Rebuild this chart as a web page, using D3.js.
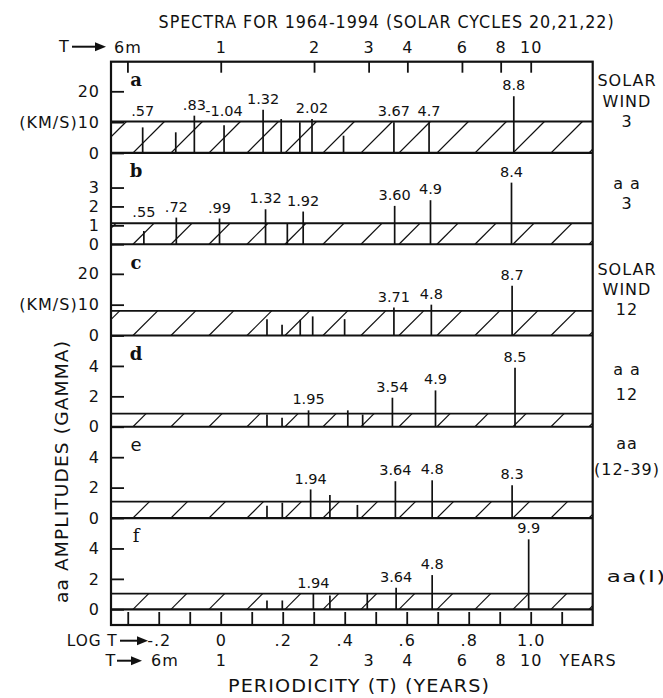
<!DOCTYPE html>
<html>
<head>
<meta charset="utf-8">
<script src="https://cdn.jsdelivr.net/npm/d3@7"></script>
<style>
  body { margin: 0; background: #fff; }
  text { font-family: "DejaVu Sans", sans-serif; fill: #111; letter-spacing: 1px; }
</style>
</head>
<body>
<div id="chart"></div>
<script>
// ---- data (T in years, amplitude in panel units) ----
var peaksA = [
  {T: 0.56, amp: 8.3, label: ".57"},
  {T: 0.716, amp: 6.7},
  {T: 0.822, amp: 12.1, label: ".83"},
  {T: 1.025, amp: 9.0, label: "-1.04"},
  {T: 1.37, amp: 14.0, label: "1.32"},
  {T: 1.567, amp: 11.0},
  {T: 1.80, amp: 10.0},
  {T: 1.97, amp: 11.0, label: "2.02"},
  {T: 2.49, amp: 5.6},
  {T: 3.62, amp: 10.0, label: "3.67"},
  {T: 4.70, amp: 10.0, label: "4.7"},
  {T: 8.82, amp: 18.4, label: "8.8"}
];
var peaksB = [
  {T: 0.565, amp: 0.70, label: ".55"},
  {T: 0.719, amp: 1.41, label: ".72"},
  {T: 0.991, amp: 1.36, label: ".99"},
  {T: 1.395, amp: 1.85, label: "1.32"},
  {T: 1.64, amp: 1.1},
  {T: 1.845, amp: 1.73, label: "1.92"},
  {T: 3.64, amp: 2.03, label: "3.60"},
  {T: 4.75, amp: 2.33, label: "4.9"},
  {T: 8.67, amp: 3.26, label: "8.4"}
];
var peaksC = [
  {T: 1.41, amp: 5.3},
  {T: 1.577, amp: 3.5},
  {T: 1.805, amp: 5.1},
  {T: 1.98, amp: 6.2},
  {T: 2.51, amp: 5.3},
  {T: 3.62, amp: 9.1, label: "3.71"},
  {T: 4.78, amp: 10.0, label: "4.8"},
  {T: 8.71, amp: 16.1, label: "8.7"}
];
var peaksD = [
  {T: 1.41, amp: 0.81},
  {T: 1.577, amp: 0.6},
  {T: 1.92, amp: 1.08, label: "1.95"},
  {T: 2.57, amp: 1.08},
  {T: 2.87, amp: 0.8},
  {T: 3.58, amp: 1.91, label: "3.54"},
  {T: 4.93, amp: 2.39, label: "4.9"},
  {T: 8.9, amp: 3.88, label: "8.5"}
];
var peaksE = [
  {T: 1.41, amp: 0.8},
  {T: 1.58, amp: 1.01},
  {T: 1.95, amp: 1.88, label: "1.94"},
  {T: 2.25, amp: 1.51},
  {T: 2.76, amp: 0.86},
  {T: 3.66, amp: 2.42, label: "3.64"},
  {T: 4.81, amp: 2.48, label: "4.8"},
  {T: 8.71, amp: 2.16, label: "8.3"}
];
var peaksF = [
  {T: 1.41, amp: 0.58},
  {T: 1.58, amp: 0.58},
  {T: 1.99, amp: 1.03, label: "1.94"},
  {T: 2.25, amp: 0.9},
  {T: 2.97, amp: 1.0},
  {T: 3.68, amp: 1.42, label: "3.64"},
  {T: 4.81, amp: 2.25, label: "4.8"},
  {T: 9.85, amp: 4.6, label: "9.9"}
];

var panelLetters = ["a", "b", "c", "d", "e", "f"];
var panelPeaks = [peaksA, peaksB, peaksC, peaksD, peaksE, peaksF];
var panelMax = [29.6, 4.83, 29.6, 6, 6, 6];
var noiseLevels = [10.2, 1.11, 8.0, 0.86, 1.08, 1.03];
var yTickValues = [[20, 10, 0], [3, 2, 1, 0], [20, 10, 0], [4, 2, 0], [4, 2, 0], [4, 2, 0]];
var seriesNames = [["SOLAR", "WIND", "3"], ["a a", "3"], ["SOLAR", "WIND", "12"],
                   ["a a", "12"], ["aa", "(12-39)"], ["aa(I)"]];

var topT = [0.5, 1, 2, 3, 4, 6, 8, 10];
var topTLabels = ["6m", "1", "2", "3", "4", "6", "8", "10"];
var logTicks = [-0.3, -0.2, -0.1, 0, 0.1, 0.2, 0.3, 0.4, 0.5, 0.6, 0.7, 0.8, 0.9, 1.0, 1.1];
var logLabels = [-0.2, 0, 0.2, 0.4, 0.6, 0.8, 1.0];
var logLabelText = ["-.2", "0", ".2", ".4", ".6", ".8", "1.0"];
var bottomT = [1, 2, 3, 4, 6, 8, 10];

// ---- layout ----
var width = 663, height = 698;
var frame = {left: 111, right: 592.7, top: 61.7, bottom: 609.3, strip: 625};
var panelH = (frame.bottom - frame.top) / 6;
var sideTop = [19, 30, 25, 34, 17, 58],
    sideStep = [20.5, 20, 20, 25, 26, 0];

var svg = d3.select("#chart").append("svg")
    .attr("width", width)
    .attr("height", height);

var x = d3.scaleLog()
    .domain([Math.pow(10, -0.354), Math.pow(10, 1.2)])
    .range([frame.left, frame.right]);

var defs = svg.append("defs");

// filled-head arrow used in the axis captions
function arrow(x0, x1, y) {
  svg.append("line")
      .attr("x1", x0).attr("x2", x1 - 8).attr("y1", y).attr("y2", y)
      .attr("stroke", "#111").attr("stroke-width", 2);
  svg.append("path")
      .attr("d", "M" + (x1 - 11) + "," + (y - 4.5) + "L" + x1 + "," + y + "L" + (x1 - 11) + "," + (y + 4.5) + "Z")
      .attr("fill", "#111");
}

function styleAxis(g, size) {
  g.select(".domain").remove();
  g.selectAll("line").attr("stroke", "#111").attr("stroke-width", 1.8);
  g.selectAll("text")
      .attr("fill", "#111")
      .attr("font-family", "DejaVu Sans, sans-serif")
      .attr("font-size", size);
}

// title
svg.append("text")
    .attr("x", 158.6).attr("y", 21.7).attr("dy", "0.35em")
    .attr("textLength", 456).attr("lengthAdjust", "spacingAndGlyphs")
    .style("font-size", "17px")
    .text("SPECTRA FOR 1964-1994 (SOLAR CYCLES 20,21,22)");

// ---- panels ----
panelLetters.forEach(function(letter, i) {
  var top = frame.top + i * panelH,
      base = top + panelH;

  var y = d3.scaleLinear()
      .domain([0, panelMax[i]])
      .range([base, top]);

  var g = svg.append("g").attr("class", "panel");

  // noise band with hatching
  var bandTop = y(noiseLevels[i]);
  var bandH = base - bandTop;
  defs.append("clipPath").attr("id", "band" + i)
    .append("rect")
      .attr("x", frame.left).attr("y", bandTop)
      .attr("width", frame.right - frame.left).attr("height", bandH);

  var hatchX = d3.range(frame.left + 22 - 2 * 38, frame.right + 38, 38);
  g.append("g")
      .attr("clip-path", "url(#band" + i + ")")
    .selectAll("line")
    .data(hatchX)
    .join("line")
      .attr("x1", function(d) { return d; })
      .attr("y1", base)
      .attr("x2", function(d) { return d + bandH; })
      .attr("y2", bandTop)
      .attr("stroke", "#111")
      .attr("stroke-width", 1.2);

  g.append("line")
      .attr("x1", frame.left).attr("x2", frame.right)
      .attr("y1", bandTop).attr("y2", bandTop)
      .attr("stroke", "#111").attr("stroke-width", 1.8);

  g.append("line")
      .attr("x1", frame.left).attr("x2", frame.right)
      .attr("y1", base).attr("y2", base)
      .attr("stroke", "#111").attr("stroke-width", 2.2);

  // spectral peaks
  g.append("g").selectAll("line")
    .data(panelPeaks[i])
    .join("line")
      .attr("x1", function(d) { return x(d.T); })
      .attr("x2", function(d) { return x(d.T); })
      .attr("y1", base)
      .attr("y2", function(d) { return y(d.amp); })
      .attr("stroke", "#111")
      .attr("stroke-width", 1.7);

  g.append("g").selectAll("text")
    .data(panelPeaks[i].filter(function(d) { return d.label; }))
    .join("text")
      .attr("x", function(d) { return x(d.T); })
      .attr("y", function(d) { return Math.min(y(d.amp), bandTop) - 11; })
      .attr("dy", "0.35em")
      .attr("text-anchor", "middle")
      .style("font-size", "14.5px")
      .style("letter-spacing", "0px")
      .text(function(d) { return d.label; });

  // y axis, ticks pointing inward
  var yAxis = d3.axisLeft(y)
      .tickValues(yTickValues[i])
      .tickSizeInner(-13)
      .tickSizeOuter(0)
      .tickPadding(11)
      .tickFormat(function(v) {
        return (panelMax[i] > 20 && v === 10) ? "(KM/S)10" : String(v);
      });
  g.append("g")
      .attr("transform", "translate(" + frame.left + ",0)")
      .call(yAxis)
      .call(styleAxis, 16)
      .selectAll("text").attr("letter-spacing", "1px");

  // panel letter
  g.append("text")
      .attr("x", 136).attr("y", top + 18).attr("dy", "0.35em")
      .attr("text-anchor", "middle")
      .style("font-family", i === 4 ? "DejaVu Sans, sans-serif" : "DejaVu Serif, serif")
      .style("font-weight", i < 4 ? "bold" : "normal")
      .style("font-size", "18px")
      .style("letter-spacing", "0px")
      .text(letter);

  // series name at the right
  seriesNames[i].forEach(function(s, k) {
    var t = g.append("text")
        .attr("y", top + sideTop[i] + k * sideStep[i])
        .attr("dy", "0.35em")
        .style("font-size", "16px")
        .text(s);
    if (i === 5) {
      t.attr("x", 606.7).attr("textLength", 60).attr("lengthAdjust", "spacingAndGlyphs");
    } else {
      t.attr("x", 627).attr("text-anchor", "middle");
    }
  });
});

// ---- frame ----
svg.append("rect")
    .attr("x", frame.left).attr("y", frame.top)
    .attr("width", frame.right - frame.left)
    .attr("height", frame.strip - frame.top)
    .attr("fill", "none")
    .attr("stroke", "#111")
    .attr("stroke-width", 2.2);

// ---- top period axis ----
var topAxis = d3.axisTop(x)
    .tickValues(topT)
    .tickSizeInner(-11)
    .tickSizeOuter(0)
    .tickPadding(9)
    .tickFormat(function(d, k) { return topTLabels[k]; });
svg.append("g")
    .attr("transform", "translate(0," + frame.top + ")")
    .call(topAxis)
    .call(styleAxis, 16);

svg.append("text")
    .attr("x", 64.5).attr("y", 46.7).attr("dy", "0.35em")
    .attr("text-anchor", "middle").style("font-size", "16px")
    .text("T");
arrow(72, 106, 46.7);

// ---- bottom log T strip ----
var stripAxis = d3.axisTop(x)
    .tickValues(logTicks.map(function(v) { return Math.pow(10, v); }))
    .tickSizeInner(13)
    .tickSizeOuter(0)
    .tickFormat("");
svg.append("g")
    .attr("transform", "translate(0," + frame.strip + ")")
    .call(stripAxis)
    .call(styleAxis, 16);

var logAxis = d3.axisBottom(x)
    .tickValues(logLabels.map(function(v) { return Math.pow(10, v); }))
    .tickSize(0)
    .tickPadding(10)
    .tickFormat(function(d, k) { return logLabelText[k]; });
svg.append("g")
    .attr("transform", "translate(0," + frame.strip + ")")
    .call(logAxis)
    .call(styleAxis, 16);

var tAxis = d3.axisBottom(x)
    .tickValues(bottomT)
    .tickSize(0)
    .tickPadding(30)
    .tickFormat(d3.format("d"));
svg.append("g")
    .attr("transform", "translate(0," + frame.strip + ")")
    .call(tAxis)
    .call(styleAxis, 16);

svg.append("text")
    .attr("x", 66.7).attr("y", 640.7).attr("dy", "0.35em")
    .attr("textLength", 51).attr("lengthAdjust", "spacingAndGlyphs")
    .style("font-size", "16px")
    .text("LOG T");
arrow(120, 148, 640.7);

svg.append("text")
    .attr("x", 111).attr("y", 660.7).attr("dy", "0.35em")
    .attr("text-anchor", "middle").style("font-size", "16px")
    .text("T");
arrow(117, 142, 660.7);

svg.append("text")
    .attr("x", 165).attr("y", 660.7).attr("dy", "0.35em")
    .attr("text-anchor", "middle").style("font-size", "16px")
    .text("6m");

svg.append("text")
    .attr("x", 588).attr("y", 660.7).attr("dy", "0.35em")
    .attr("text-anchor", "middle").style("font-size", "16px")
    .text("YEARS");

svg.append("text")
    .attr("x", 228).attr("y", 686).attr("dy", "0.35em")
    .attr("textLength", 262).attr("lengthAdjust", "spacingAndGlyphs")
    .style("font-size", "18px")
    .text("PERIODICITY (T) (YEARS)");

// y axis title
svg.append("text")
    .attr("transform", "translate(62,471.5) rotate(-90)")
    .attr("dy", "0.35em")
    .attr("text-anchor", "middle")
    .attr("textLength", 263).attr("lengthAdjust", "spacingAndGlyphs")
    .style("font-size", "17px")
    .text("aa AMPLITUDES (GAMMA)");
</script>
</body>
</html>
